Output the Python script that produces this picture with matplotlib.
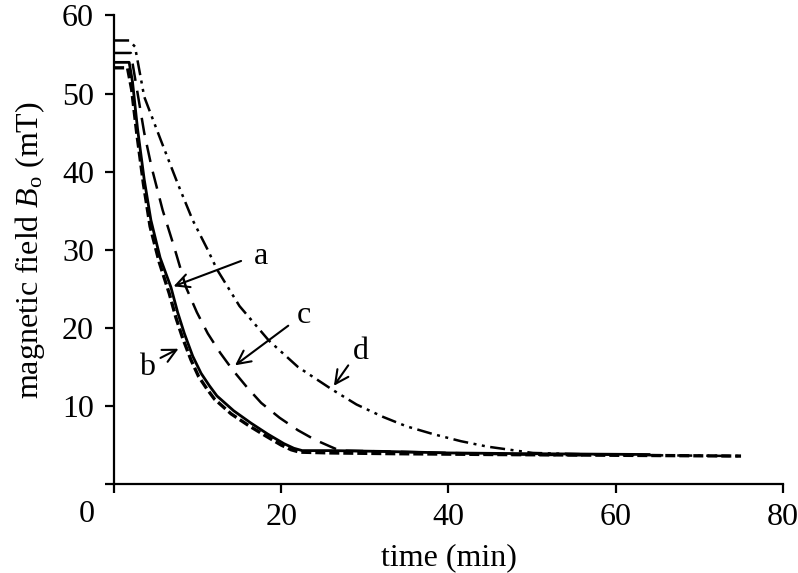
"""Magnetic field decay B_o vs time for four runs (a-d)."""
import matplotlib
matplotlib.use("Agg")
import matplotlib.pyplot as plt

plt.rcParams["font.family"] = ["Liberation Serif", "DejaVu Serif"]
plt.rcParams["mathtext.fontset"] = "custom"
plt.rcParams["mathtext.rm"] = "Liberation Serif"
plt.rcParams["mathtext.it"] = "Liberation Serif:italic"

# curve a (solid)
t_a = [0, 1.8, 2.2, 2.8, 3.6, 4.4, 5.5, 6.8, 7.6, 8.4, 9.4, 10.4, 11.4, 12.3,
       14.3, 16.4, 18.4, 20.3, 21.5, 22.5, 26, 32, 40, 50, 64]
b_a = [54.0, 54.0, 51.5, 45.5, 39.0, 33.8, 29.0, 25.2, 22.0, 19.3, 16.4, 14.2,
       12.6, 11.3, 9.4, 7.8, 6.4, 5.2, 4.6, 4.3, 4.3, 4.2, 4.0, 3.9, 3.8]
# curve b (short heavy dashes)
t_b = [0, 1.6, 2.1, 2.7, 3.5, 4.3, 5.4, 6.6, 7.4, 8.2, 9.2, 10.1, 11.1, 12.0,
       14.0, 16.1, 18.1, 20.0, 21.2, 22.2, 26, 34, 45, 60, 75]
b_b = [53.3, 53.3, 50.5, 45.0, 38.5, 33.0, 28.4, 24.4, 21.3, 18.7, 15.9, 13.8,
       12.2, 10.9, 9.0, 7.5, 6.2, 5.0, 4.4, 4.1, 4.0, 3.9, 3.8, 3.7, 3.6]
# curve c (long dashes)
t_c = [0, 2.0, 2.5, 3.6, 4.5, 5.2, 5.8, 7.2, 8.6, 9.9, 11.2, 12.7, 14.2, 15.9,
       17.6, 19.8, 22.0, 24.0, 25.9, 27.0, 32, 40, 48, 56]
b_c = [55.2, 55.2, 52.0, 45.0, 40.5, 37.6, 35.1, 30.3, 25.2, 22.0, 19.3, 16.8,
       14.6, 12.4, 10.4, 8.5, 6.9, 5.7, 4.8, 4.3, 4.2, 4.0, 3.8, 3.7]
# curve d (dash-dot-dot)
t_d = [0, 1.8, 2.5, 3.6, 5.6, 7.6, 9.4, 11.2, 12.3, 15.0, 18.5, 22.0, 26.1,
       29.0, 32.2, 35.0, 38.2, 41.5, 44.7, 50.1, 57.3, 65, 75]
b_d = [56.8, 56.8, 56.0, 49.6, 44.0, 38.5, 33.8, 30.0, 27.5, 22.8, 18.4, 15.0,
       12.1, 10.2, 8.6, 7.4, 6.4, 5.5, 4.8, 4.0, 3.8, 3.7, 3.6]

x_ticks = [0, 20, 40, 60, 80]
x_tick_labels = ["", "20", "40", "60", "80"]
y_ticks = [0, 10, 20, 30, 40, 50, 60]
y_tick_labels = ["", "10", "20", "30", "40", "50", "60"]

fig = plt.figure(figsize=(7.98, 5.73), dpi=100)
ax = fig.add_axes([0.143, 0.155, 0.838, 0.818])

ax.plot(t_a, b_a, color="black", lw=2.0, ls="-")
ax.plot(t_b, b_b, color="black", lw=2.4, ls=(0, (3, 1.2)))
ax.plot(t_c, b_c, color="black", lw=1.8, ls=(0, (7, 4)))
ax.plot(t_d, b_d, color="black", lw=1.8, ls=(0, (6, 2.2, 1.2, 2.2, 1.2, 2.2)))

arrow = dict(arrowstyle="->", color="black", lw=1.5, mutation_scale=24)
fs = 23
ax.annotate("", xy=(6.8, 25.2), xytext=(15.5, 28.7), arrowprops=arrow)
ax.text(17.6, 29.1, "a", fontsize=fs, ha="center", va="center")
ax.annotate("", xy=(8.0, 17.5), xytext=(5.25, 16.0), arrowprops=arrow)
ax.text(3.9, 15.0, "b", fontsize=fs, ha="center", va="center")
ax.annotate("", xy=(14.2, 15.0), xytext=(21.1, 20.5), arrowprops=arrow)
ax.text(22.7, 21.6, "c", fontsize=fs, ha="center", va="center")
ax.annotate("", xy=(26.1, 12.3), xytext=(28.2, 15.5), arrowprops=arrow)
ax.text(29.5, 17.0, "d", fontsize=fs, ha="center", va="center")

ax.set_xlim(0, 80)
ax.set_ylim(0, 60)
ax.set_xticks(x_ticks)
ax.set_xticklabels(x_tick_labels)
ax.set_yticks(y_ticks)
ax.set_yticklabels(y_tick_labels)
ax.annotate("0", xy=(0, 0), xytext=(-20, -22), textcoords="offset points",
            fontsize=fs, ha="center", va="center", annotation_clip=False)

for side in ("top", "right"):
    ax.spines[side].set_visible(False)
for side in ("left", "bottom"):
    ax.spines[side].set_linewidth(1.6)
ax.tick_params(axis="both", direction="out", length=6.5, width=1.6,
               labelsize=fs, color="black")
ax.tick_params(axis="y", pad=8)
ax.tick_params(axis="x", pad=7)

ax.set_xlabel("time (min)", fontsize=fs, labelpad=8)
ax.set_ylabel(r"magnetic field $B_{\mathrm{o}}$ (mT)", fontsize=fs, labelpad=11)

fig.savefig("out.png", dpi=100)
